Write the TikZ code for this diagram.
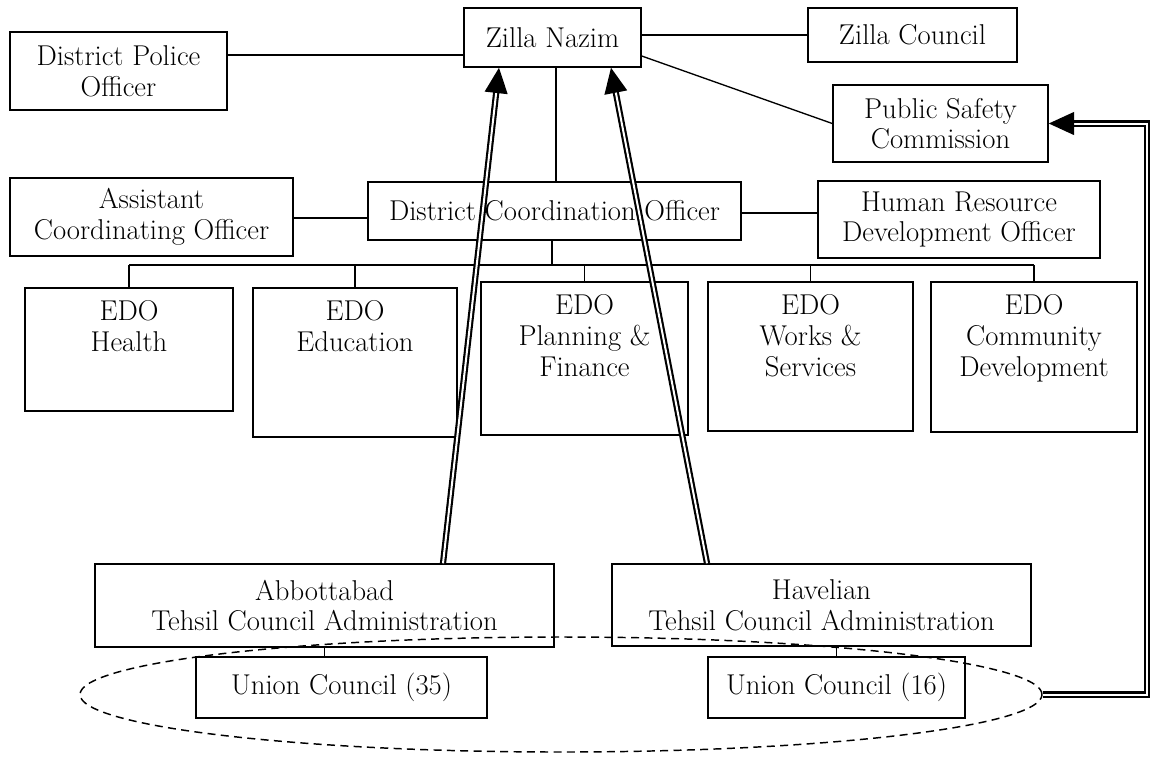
\documentclass[tikz,border=0pt]{standalone}
\usetikzlibrary{arrows.meta,shapes.geometric,calc}
\newcommand\orgfont{\fontsize{21.5}{23}\selectfont}
\tikzset{
  box/.style={draw, line width=1.1pt, inner sep=0pt, align=center, font=\orgfont},
  txt/.style={inner sep=0pt, align=center, font=\orgfont},
  ln/.style={line width=1pt},
  dbl/.style={double, double distance=1.5pt, line width=1.6pt},
  tip/.style={-{Triangle[length=19pt,width=17pt]}},
  ring/.style={ellipse, draw, dashed, dash pattern=on 6pt off 4pt, line width=1.1pt, inner sep=0pt},
}
% box given by its corners in pixel coordinates
\newcommand\orgbox[6]{%
  \pgfmathsetmacro\bcx{(#2+#4)/2}\pgfmathsetmacro\bcy{(#3+#5)/2}%
  \pgfmathsetmacro\bw{(#4-#2)*0.75}\pgfmathsetmacro\bh{(#5-#3)*0.75}%
  \node[box, minimum width=\bw pt, minimum height=\bh pt] (#1) at (\bcx,\bcy) {#6};}
\begin{document}
\begin{tikzpicture}[x=0.75pt, y=-0.75pt]
\fill[white] (0,0) rectangle (1152,761);
\useasboundingbox (0,0) rectangle (1152,761);

% top tier
\orgbox{zn}{464}{8}{641}{67}{Zilla Nazim}
\orgbox{zc}{808}{8}{1017}{62}{Zilla Council}
\orgbox{dpo}{10}{32}{227}{110}{District Police\\Officer}
\orgbox{psc}{833}{85}{1048}{162}{Public Safety\\Commission}

% coordination tier
\orgbox{aco}{10}{178}{293}{256}{Assistant\\Coordinating Officer}
\orgbox{dco}{368}{182}{741}{240}{District Coordination Officer}
\orgbox{hrdo}{818}{181}{1100}{258}{Human Resource\\Development Officer}

% executive district officers
\orgbox{edo1}{25}{288}{233}{411}{}
\orgbox{edo2}{253}{288}{457}{437}{}
\orgbox{edo3}{481}{282}{688}{435}{}
\orgbox{edo4}{708}{282}{913}{431}{}
\orgbox{edo5}{931}{282}{1137}{432}{}
\node[txt, anchor=north] (edo1t) at ([yshift=-10pt]edo1.north) {EDO\\Health};
\node[txt, anchor=north] (edo2t) at ([yshift=-10pt]edo2.north) {EDO\\Education};
\node[txt, anchor=north] (edo3t) at ([yshift=-10pt]edo3.north) {EDO\\Planning \&\\Finance};
\node[txt, anchor=north] (edo4t) at ([yshift=-10pt]edo4.north) {EDO\\Works \&\\Services};
\node[txt, anchor=north] (edo5t) at ([yshift=-10pt]edo5.north) {EDO\\Community\\Development};

% tehsil and union councils
\orgbox{abb}{95}{564}{554}{647}{Abbottabad\\Tehsil Council Administration}
\orgbox{hav}{612}{564}{1031}{646}{Havelian\\Tehsil Council Administration}
\orgbox{uc35}{196}{657}{487}{718}{Union Council (35)}
\orgbox{uc16}{708}{657}{965}{718}{Union Council (16)}
\node[ring, minimum width=721.5pt, minimum height=86.25pt] (ucring) at (561,694.5) {};

% helper levels
\coordinate (k55) at (0,55);
\coordinate (k56) at (0,56);
\coordinate (k218) at (0,218);
\coordinate (k213) at (0,213);
\coordinate (k556) at (556,0);
\coordinate (k552) at (552,0);
\coordinate (bus) at (0,265);
\coordinate (kabb) at (443,0);
\coordinate (kznl) at (499,0);
\coordinate (khav) at (707,0);
\coordinate (kznr) at (611,0);
\coordinate (kret) at (1147,0);

% plain links
\draw[ln] (dpo.east |- k55) -- (zn.west |- k55);
\draw[ln] (zn.east |- zc.west) -- (zc.west);
\draw[ln] (zn.east |- k56) -- (psc.west);
\draw[ln] (zn.south -| k556) -- (dco.north -| k556);
\draw[ln] (aco.east |- k218) -- (dco.west |- k218);
\draw[ln] (dco.east |- k213) -- (hrdo.west |- k213);
\draw[ln] (dco.south -| k552) -- (k552 |- bus);
\draw[ln] (edo1.north |- bus) -- (edo5.north |- bus);
\foreach \e in {edo1,edo2,edo3,edo4,edo5}
  \draw[ln] (\e.north |- bus) -- (\e.north);
\draw[ln] (abb.south) -- (abb.south |- uc35.north);
\draw[ln] (uc16.north |- hav.south) -- (uc16.north);

% reporting lines
\draw[dbl, tip] (abb.north -| kabb) -- (zn.south -| kznl);
\draw[dbl, tip] (hav.north -| khav) -- (zn.south -| kznr);
\draw[dbl, tip] (ucring.east) -- (ucring.east -| kret) -- (kret |- psc.east) -- (psc.east);
\end{tikzpicture}
\end{document}
